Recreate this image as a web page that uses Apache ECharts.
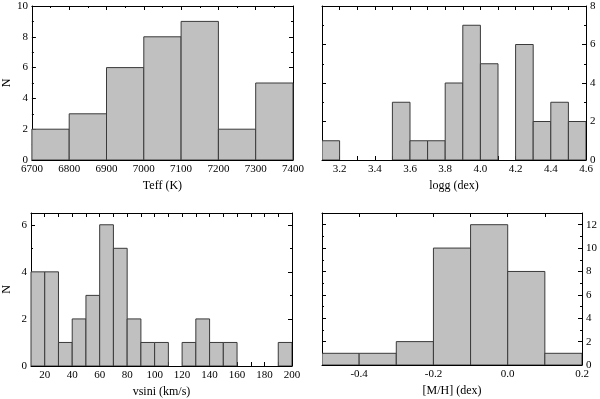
<!DOCTYPE html>
<html>
<head>
<meta charset="utf-8">
<script src="https://cdn.jsdelivr.net/npm/echarts@6/dist/echarts.min.js"></script>
<style>
  html, body { margin: 0; padding: 0; background: #fff; }
  #chart { width: 600px; height: 399px; }
</style>
</head>
<body>
<div id="chart"></div>
<script>
// histogram bin edges and counts
const teffEdges = [6700, 6800, 6900, 7000, 7100, 7200, 7300, 7400];
const teffCounts = [2, 3, 6, 8, 9, 2, 5];

const loggEdges = [3.1, 3.2, 3.3, 3.4, 3.5, 3.6, 3.7, 3.8, 3.9, 4.0, 4.1, 4.2, 4.3, 4.4, 4.5, 4.6];
const loggCounts = [1, 0, 0, 0, 3, 1, 1, 4, 7, 5, 0, 6, 2, 3, 2];

const vsiniEdges = [10, 20, 30, 40, 50, 60, 70, 80, 90, 100, 110, 120, 130, 140, 150, 160, 170, 180, 190, 200];
const vsiniCounts = [4, 4, 1, 2, 3, 6, 5, 2, 1, 1, 0, 1, 2, 1, 1, 0, 0, 0, 1];

const mhEdges = [-0.5, -0.4, -0.3, -0.2, -0.1, 0.0, 0.1, 0.2];
const mhCounts = [1, 1, 2, 10, 12, 8, 1];

const FONT = 'Liberation Serif';
const INK = '#000';

function bins(edges, counts) {
  const out = [];
  counts.forEach((c, i) => {
    if (c > 0) out.push([edges[i], edges[i + 1], c]);
  });
  return out;
}

function renderBar(params, api) {
  const p0 = api.coord([api.value(0), api.value(2)]);
  const p1 = api.coord([api.value(1), 0]);
  return {
    type: 'rect',
    shape: { x: p0[0], y: p0[1], width: p1[0] - p0[0], height: p1[1] - p0[1] },
    style: { fill: '#c0c0c0', stroke: '#3a3a3a', lineWidth: 1 }
  };
}

const tenths = (v) => {
  const k = Math.round(v * 10);
  if (k % 2 !== 0) return '';
  if (k === 0) return '0.0';
  return (k / 10).toFixed(1);
};
const evens = (v) => (Math.abs(v - 2 * Math.round(v / 2)) < 1e-6 ? String(Math.round(v)) : '');

const panels = [
  { grid: { left: 30, top: 6, width: 263, height: 154 },
    x: { min: 6700, max: 7400, interval: 100, minor: true, fmt: null, name: 'Teff (K)' },
    y: { max: 10, side: 'left', name: 'N' },
    data: bins(teffEdges, teffCounts) },
  { grid: { left: 322, top: 6, width: 264, height: 154 },
    x: { min: 3.1, max: 4.6, interval: 0.1, minor: false, fmt: tenths, name: 'logg (dex)' },
    y: { max: 8, side: 'right', name: '' },
    data: bins(loggEdges, loggCounts) },
  { grid: { left: 30, top: 213, width: 262, height: 153 },
    x: { min: 10, max: 200, interval: 10, minor: false, fmt: (v) => (Math.round(v) % 20 === 0 ? String(Math.round(v)) : ''), name: 'vsini (km/s)' },
    y: { max: 6.5, side: 'left', name: 'N' },
    data: bins(vsiniEdges, vsiniCounts) },
  { grid: { left: 322, top: 213, width: 264, height: 152 },
    x: { min: -0.5, max: 0.2, interval: 0.1, minor: false, fmt: tenths, name: '[M/H] (dex)' },
    y: { max: 13, side: 'right', name: '' },
    data: bins(mhEdges, mhCounts) }
];

const grids = [], xAxes = [], yAxes = [], series = [];
const lineStyle = { color: INK, width: 1 };
const labelStyle = { color: INK, fontFamily: FONT, fontSize: 11 };

panels.forEach((p, i) => {
  grids.push(p.grid);
  const xBase = {
    gridIndex: i, type: 'value', min: p.x.min, max: p.x.max, interval: p.x.interval,
    axisLine: { show: true, onZero: false, lineStyle },
    axisTick: { show: true, inside: true, length: 4, lineStyle },
    minorTick: { show: p.x.minor, splitNumber: 2, length: 2, lineStyle },
    splitLine: { show: false }
  };
  xAxes.push(Object.assign({}, xBase, {
    position: 'bottom',
    name: p.x.name, nameLocation: 'middle', nameGap: 20,
    nameTextStyle: { color: INK, fontFamily: FONT, fontSize: 12 },
    axisLabel: Object.assign({ margin: 4, showMinLabel: true, showMaxLabel: true,
      formatter: p.x.fmt || ((v) => String(v)) }, labelStyle)
  }));
  xAxes.push(Object.assign({}, xBase, { position: 'top', axisLabel: { show: false } }));

  const yBase = {
    gridIndex: i, type: 'value', min: 0, max: p.y.max, interval: 2,
    axisLine: { show: true, onZero: false, lineStyle },
    axisTick: { show: true, inside: true, length: 4, lineStyle },
    minorTick: { show: true, splitNumber: 2, length: 2, lineStyle },
    splitLine: { show: false }
  };
  const other = p.y.side === 'left' ? 'right' : 'left';
  yAxes.push(Object.assign({}, yBase, {
    position: p.y.side,
    name: p.y.name, nameLocation: 'middle', nameGap: 18,
    nameTextStyle: { color: INK, fontFamily: FONT, fontSize: 12 },
    axisLabel: Object.assign({ margin: 4, formatter: evens }, labelStyle)
  }));
  yAxes.push(Object.assign({}, yBase, { position: other, axisLabel: { show: false } }));

  series.push({
    type: 'custom',
    xAxisIndex: i * 2,
    yAxisIndex: i * 2,
    renderItem: renderBar,
    encode: { x: [0, 1], y: 2 },
    data: p.data,
    clip: true,
    silent: true
  });
});

const chart = echarts.init(document.getElementById('chart'));
chart.setOption({
  animation: false,
  backgroundColor: '#fff',
  grid: grids,
  xAxis: xAxes,
  yAxis: yAxes,
  series: series
});
</script>
</body>
</html>
